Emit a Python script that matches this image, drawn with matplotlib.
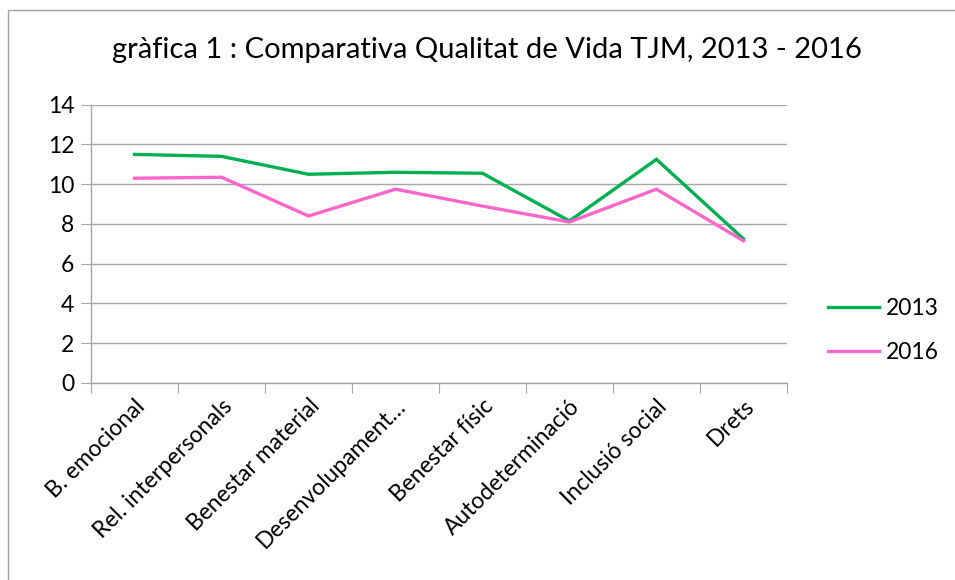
"""Comparativa Qualitat de Vida TJM, 2013 - 2016 (line chart)."""

import numpy as np
import matplotlib
matplotlib.use("Agg")
import matplotlib.pyplot as plt
from matplotlib.patches import Rectangle


# data
categories = ["B. emocional", "Rel. interpersonals", "Benestar material",
              "Desenvolupament\u2026", "Benestar físic", "Autodeterminació",
              "Inclusió social", "Drets"]
values_2013 = [11.5, 11.4, 10.5, 10.6, 10.55, 8.15, 11.25, 7.25]
values_2016 = [10.3, 10.35, 8.4, 9.75, 8.9, 8.1, 9.75, 7.15]
y_ticks = [0, 2, 4, 6, 8, 10, 12, 14]

GREEN = "#00B050"
PINK = "#FF66CC"
GRID = "#A6A6A6"
FONT = ["Lato", "DejaVu Sans"]

plt.rcParams["font.family"] = FONT


def main():
    fig = plt.figure(figsize=(9.55, 5.8), dpi=100)
    # outer chart border
    fig.patches.append(Rectangle((8 / 955, -0.01), 1.2, 1 - 10 / 580 + 0.01,
                                 transform=fig.transFigure, fill=False,
                                 edgecolor="#A0A0A0", linewidth=1))

    ax = fig.add_axes([0.0953, 0.3397, 0.7287, 0.4798])
    x = np.arange(len(categories))

    ax.plot(x, values_2013, color=GREEN, linewidth=2.4, label="2013",
            solid_joinstyle="miter", zorder=3)
    ax.plot(x, values_2016, color=PINK, linewidth=2.4, label="2016",
            solid_joinstyle="miter", zorder=3)

    ax.set_xlim(-0.5, len(categories) - 0.5)
    ax.set_ylim(0, 14)
    ax.set_yticks(y_ticks)
    ax.yaxis.grid(True, color=GRID, linewidth=1)
    ax.set_axisbelow(True)

    # ticks at category boundaries, labels at category centres
    ax.set_xticks(np.arange(-0.5, len(categories)), labels=[])
    ax.set_xticks(x, minor=True)
    ax.set_xticklabels(categories, minor=True, rotation=45, ha="right",
                       rotation_mode="anchor", fontsize=16.5)
    ax.tick_params(axis="x", which="major", length=7, color=GRID, direction="out")
    ax.tick_params(axis="x", which="minor", length=0, pad=9)
    ax.tick_params(axis="y", length=7, color=GRID, labelsize=16.5, pad=5)

    for side in ("top", "right"):
        ax.spines[side].set_visible(False)
    for side in ("left", "bottom"):
        ax.spines[side].set_color(GRID)
        ax.spines[side].set_linewidth(1)

    fig.text(0.51, 0.913, "gràfica 1 : Comparativa Qualitat de Vida TJM, 2013 - 2016",
             ha="center", va="center", fontsize=21)

    ax.legend(loc="center left", bbox_to_anchor=(1.03, 0.19), frameon=False,
              fontsize=16.5, handlelength=2.2, handletextpad=0.3,
              labelspacing=1.0)

    fig.savefig("out.png", dpi=100)
    plt.close(fig)


if __name__ == "__main__":
    main()
